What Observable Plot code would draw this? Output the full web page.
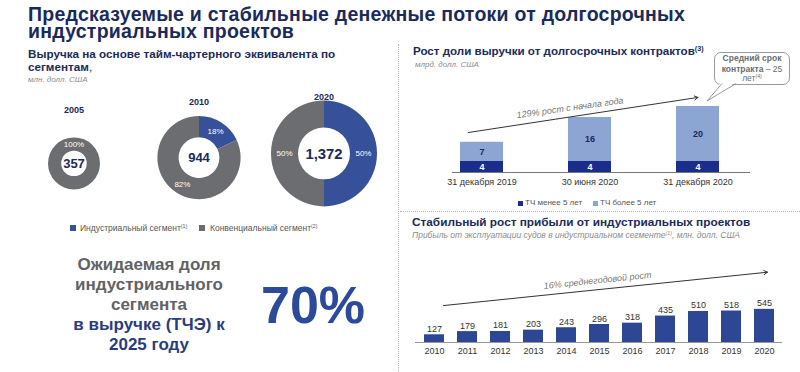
<!DOCTYPE html>
<html><head><meta charset="utf-8">
<script src="https://cdn.jsdelivr.net/npm/d3@7"></script>
<script src="https://cdn.jsdelivr.net/npm/@observablehq/plot@0.6"></script>
<style>
html,body{margin:0;padding:0;background:#fff;}
#page{position:relative;width:800px;height:372px;overflow:hidden;font-family:"Liberation Sans",Arial,sans-serif;}
.t{position:absolute;white-space:nowrap;line-height:1;}
sup{font-size:0.62em;vertical-align:0;position:relative;top:-0.55em;}
</style></head><body><div id="page"></div>
<script>
// ---------- data ----------
const donutYears = ["2005", "2010", "2020"];
const donutTotals = [357, 944, 1372];
const donutTotalLabels = ["357", "944", "1,372"];
const industrialShare = [0, 18, 50];
const conventionalShare = [100, 82, 50];
const segmentNames = ["Индустриальный сегмент", "Конвенциальный сегмент"];

const contractDates = ["31 декабря 2019", "30 июня 2020", "31 декабря 2020"];
const contractTypes = ["ТЧ менее 5 лет", "ТЧ более 5 лет"];
const shortTerm = [4, 4, 4];
const longTerm = [7, 16, 20];
const contractArrow = {from: contractDates[0], to: contractDates[2], y1: 15.3, y2: 27.3, labelAt: contractDates[1], labelY: 23.5, label: "129% рост с начала года"};

const profitYears = ["2010","2011","2012","2013","2014","2015","2016","2017","2018","2019","2020"];
const profitValues = [127, 179, 181, 203, 243, 296, 318, 435, 510, 518, 545];
const profitArrow = {from: profitYears[0], to: profitYears[10], y1: 592, y2: 1151, labelAt: profitYears[5], labelY: 1020, label: "16% среднегодовой рост"};

// ---------- style ----------
const FONT = "Liberation Sans, Arial, sans-serif";
const NAVY = "#1b2a5c";
const BLUE = "#36509a";
const GREY = "#6b6d70";
const DARKBAR = "#1b2d8a";
const LIGHTBAR = "#8da5d3";
const PROFITBAR = "#2e4795";
const TXTGREY = "#5f6266";

const page = document.getElementById("page");
function txt(html, x, base, size, opts = {}) {
  const d = document.createElement("div");
  d.className = "t";
  d.innerHTML = html;
  d.style.fontSize = size + "px";
  d.style.top = (base - 0.83 * size) + "px";
  d.style.left = x + "px";
  if (opts.anchor === "middle") d.style.transform = "translateX(-50%)";
  d.style.color = opts.color || NAVY;
  d.style.fontWeight = opts.weight || "bold";
  if (opts.italic) d.style.fontStyle = "italic";
  if (opts.spacing) d.style.letterSpacing = opts.spacing + "px";
  page.appendChild(d);
  return d;
}
function place(el, left, top) {
  el.style.position = "absolute";
  el.style.left = left + "px";
  el.style.top = top + "px";
  page.appendChild(el);
}
function box(left, top, w, h, css) {
  const d = document.createElement("div");
  d.style.position = "absolute";
  d.style.left = left + "px"; d.style.top = top + "px";
  d.style.width = w + "px"; d.style.height = h + "px";
  Object.assign(d.style, css);
  page.appendChild(d);
  return d;
}

// ---------- headings ----------
const title = txt("Предсказуемые и стабильные денежные потоки от долгосрочных<br>индустриальных проектов", 28, 20.5, 19.5, {spacing: 0.25});
title.style.lineHeight = "17px";
title.style.top = "5.5px";
txt("Выручка на основе тайм-чартерного эквивалента по", 28, 58, 11.7);
txt("сегментам<span style='font-weight:normal'>,</span>", 28, 71, 11.7);
txt("млн. долл. США", 28, 82.5, 8, {italic: true, weight: "normal", color: "#8c8c8c"});

txt("Рост доли выручки от долгосрочных контрактов<sup>(3)</sup>", 413, 55, 11.6);
txt("млрд. долл. США", 415, 68, 8, {italic: true, weight: "normal", color: "#8c8c8c"});

txt("Стабильный рост прибыли от индустриальных проектов", 412, 227, 11.8);
txt("Прибыль от эксплуатации судов в индустриальном сегменте<sup>(1)</sup>, млн. долл. США", 412, 238, 8.5, {italic: true, weight: "normal", color: "#8c8c8c"});

// dividers
box(398, 44, 0, 328, {borderLeft: "1px dotted #b5b5b5"});
box(400, 211, 400, 0, {borderTop: "1px dotted #b5b5b5"});

// ---------- donuts ----------
const donutRows = donutYears.map((year, i) => ({year, total: donutTotals[i], label: donutTotalLabels[i], shares: [industrialShare[i], conventionalShare[i]]}));
const segmentColors = [BLUE, GREY];
const donutChart = Plot.plot({
  width: 400, height: 130, marginLeft: 73, marginRight: 76, marginTop: 0, marginBottom: 0,
  style: {fontFamily: FONT, background: "transparent", overflow: "visible"},
  x: {type: "point", domain: donutYears, padding: 0, axis: null},
  r: {type: "linear", domain: [357, 1372], range: [26, 53]},
  marks: [
    Plot.dot(donutRows, {x: "year", r: "total", fill: "none", stroke: "none"}),
    (index, scales) => {
      const g = d3.create("svg:g");
      for (const row of donutRows) {
        const cx = scales.x(row.year), r = scales.r(row.total), ri = r * 0.49, rm = (r + ri) / 2;
        const cy = 83 - 0.37 * r;
        const arcs = d3.pie().sort(null).value(d => d)(row.shares);
        const arcGen = d3.arc().innerRadius(ri).outerRadius(r);
        const gg = g.append("g").attr("transform", `translate(${cx},${cy})`);
        arcs.forEach((a, k) => {
          if (a.value <= 0) return;
          gg.append("path").attr("d", arcGen(a)).attr("fill", segmentColors[k]);
        });
        arcs.forEach((a, k) => {
          if (a.value <= 0) return;
          const ang = a.value === 100 ? 0 : (a.startAngle + a.endAngle) / 2;
          gg.append("text").attr("x", Math.sin(ang) * rm).attr("y", -Math.cos(ang) * rm)
            .attr("text-anchor", "middle").attr("dy", "0.35em")
            .attr("fill", "#fff").attr("font-size", 8).text(a.value + "%");
        });
        gg.append("text").attr("text-anchor", "middle").attr("dy", "0.36em")
          .attr("fill", NAVY).attr("font-weight", "bold").attr("font-size", Math.max(13, r * 0.28))
          .text(row.label);
        g.append("text").attr("x", cx).attr("y", 33 - 0.5 * r).attr("dy", "0.35em")
          .attr("text-anchor", "middle").attr("fill", NAVY).attr("font-weight", "bold").attr("font-size", 9)
          .text(row.year);
      }
      return g.node();
    }
  ]
});
place(donutChart, 0, 90);

// donut legend
box(70, 225, 6, 6, {background: BLUE});
txt(segmentNames[0] + "<sup>(1)</sup>", 80, 231, 8.5, {weight: "normal", color: "#555"});
box(199, 225, 6, 6, {background: GREY});
txt(segmentNames[1] + "<sup>(2)</sup>", 210, 231, 8.5, {weight: "normal", color: "#555"});

// big text block
const blockLines = [["Ожидаемая доля", TXTGREY], ["индустриального", TXTGREY], ["сегмента", TXTGREY], ["в выручке (ТЧЭ) к", "#2b3c7e"], ["2025 году", "#2b3c7e"]];
blockLines.forEach(([s, c], i) => txt(s, 149, 270 + i * 20, 17, {anchor: "middle", color: c}));
txt("70%", 261, 322, 52, {color: "#2b4a9b"});

// ---------- contracts stacked bars ----------
const contractRows = [];
contractDates.forEach((date, i) => {
  contractRows.push({date, type: contractTypes[0], value: shortTerm[i], mid: shortTerm[i] / 2});
  contractRows.push({date, type: contractTypes[1], value: longTerm[i], mid: shortTerm[i] + longTerm[i] / 2});
});
const contractChart = Plot.plot({
  width: 400, height: 115, marginLeft: 60, marginRight: 80, marginTop: 4, marginBottom: 23,
  style: {fontFamily: FONT, fontSize: "9px", color: "#333", background: "transparent", overflow: "visible"},
  x: {type: "band", domain: contractDates, paddingInner: 0.6, paddingOuter: 0, label: null, tickSize: 0, tickPadding: 6},
  y: {domain: [0, 32], axis: null},
  color: {domain: contractTypes, range: [DARKBAR, LIGHTBAR]},
  marks: [
    Plot.barY(contractRows, {x: "date", y: "value", fill: "type"}),
    Plot.ruleY([0], {stroke: "#777", insetLeft: -8, insetRight: -30}),
    Plot.text(contractRows.filter(d => d.type === contractTypes[0]), {x: "date", y: "mid", text: "value", fill: "#fff", fontWeight: "bold", fontSize: 9}),
    Plot.text(contractRows.filter(d => d.type === contractTypes[1]), {x: "date", y: "mid", text: "value", fill: NAVY, fontWeight: "bold", fontSize: 9}),
    Plot.arrow([contractArrow], {x1: "from", y1: "y1", x2: "to", y2: "y2", stroke: "#333", strokeWidth: 1, headLength: 6, insetStart: -14}),
    Plot.text([contractArrow], {x: "labelAt", y: "labelY", text: "label", rotate: -8, dx: -20, fill: "#777", fontStyle: "italic", fontSize: 9})
  ]
});
place(contractChart, 400, 80);

// contract legend
box(518, 201, 5, 5, {background: DARKBAR});
txt(contractTypes[0], 525, 206, 8, {weight: "normal", color: "#555"});
box(593, 201, 5, 5, {background: LIGHTBAR});
txt(contractTypes[1], 600, 206, 8, {weight: "normal", color: "#555"});

// callout
box(714, 52, 74, 31, {border: "1px solid #9a9a9a", borderRadius: "7px", background: "#fff"});
const tail = d3.create("svg").attr("width", 40).attr("height", 30);
tail.append("path").attr("d", "M21,4 L36,4 L7,23 Z").attr("fill", "#fff");
tail.append("path").attr("d", "M22,5.5 L7,23 L36,5.5").attr("fill", "none").attr("stroke", "#9a9a9a");
place(tail.node(), 700, 78);
txt("Средний срок", 752, 61, 8.5, {anchor: "middle", color: "#6a6d70"});
txt("контракта<span style='font-weight:normal'> – 25</span>", 752, 72, 8.5, {anchor: "middle", color: "#6a6d70"});
txt("<span style='font-weight:normal'>лет<sup>(4)</sup></span>", 752, 81, 8.5, {anchor: "middle", color: "#6a6d70"});

// ---------- profit bars ----------
const profitRows = profitYears.map((year, i) => ({year, value: profitValues[i]}));
const profitChart = Plot.plot({
  width: 400, height: 127, marginLeft: 23, marginRight: 25, marginTop: 21, marginBottom: 30,
  style: {fontFamily: FONT, fontSize: "9px", color: "#333", background: "transparent", overflow: "visible"},
  x: {type: "band", domain: profitYears, paddingInner: 0.4, paddingOuter: 0, label: null, tickSize: 0, tickPadding: 5},
  y: {domain: [0, 1250], axis: null},
  marks: [
    Plot.barY(profitRows, {x: "year", y: "value", fill: PROFITBAR}),
    Plot.ruleY([0], {stroke: "#999", insetLeft: -8, insetRight: -7}),
    Plot.text(profitRows, {x: "year", y: "value", text: "value", lineAnchor: "bottom", dy: -3, fill: "#333", fontSize: 9}),
    Plot.arrow([profitArrow], {x1: "from", y1: "y1", x2: "to", y2: "y2", stroke: "#333", strokeWidth: 1, headLength: 6, insetStart: 9, insetEnd: -3}),
    Plot.text([profitArrow], {x: "labelAt", y: "labelY", text: "label", rotate: -6, dx: -2, fill: "#777", fontStyle: "italic", fontSize: 9})
  ]
});
place(profitChart, 400, 245);
</script></body></html>
